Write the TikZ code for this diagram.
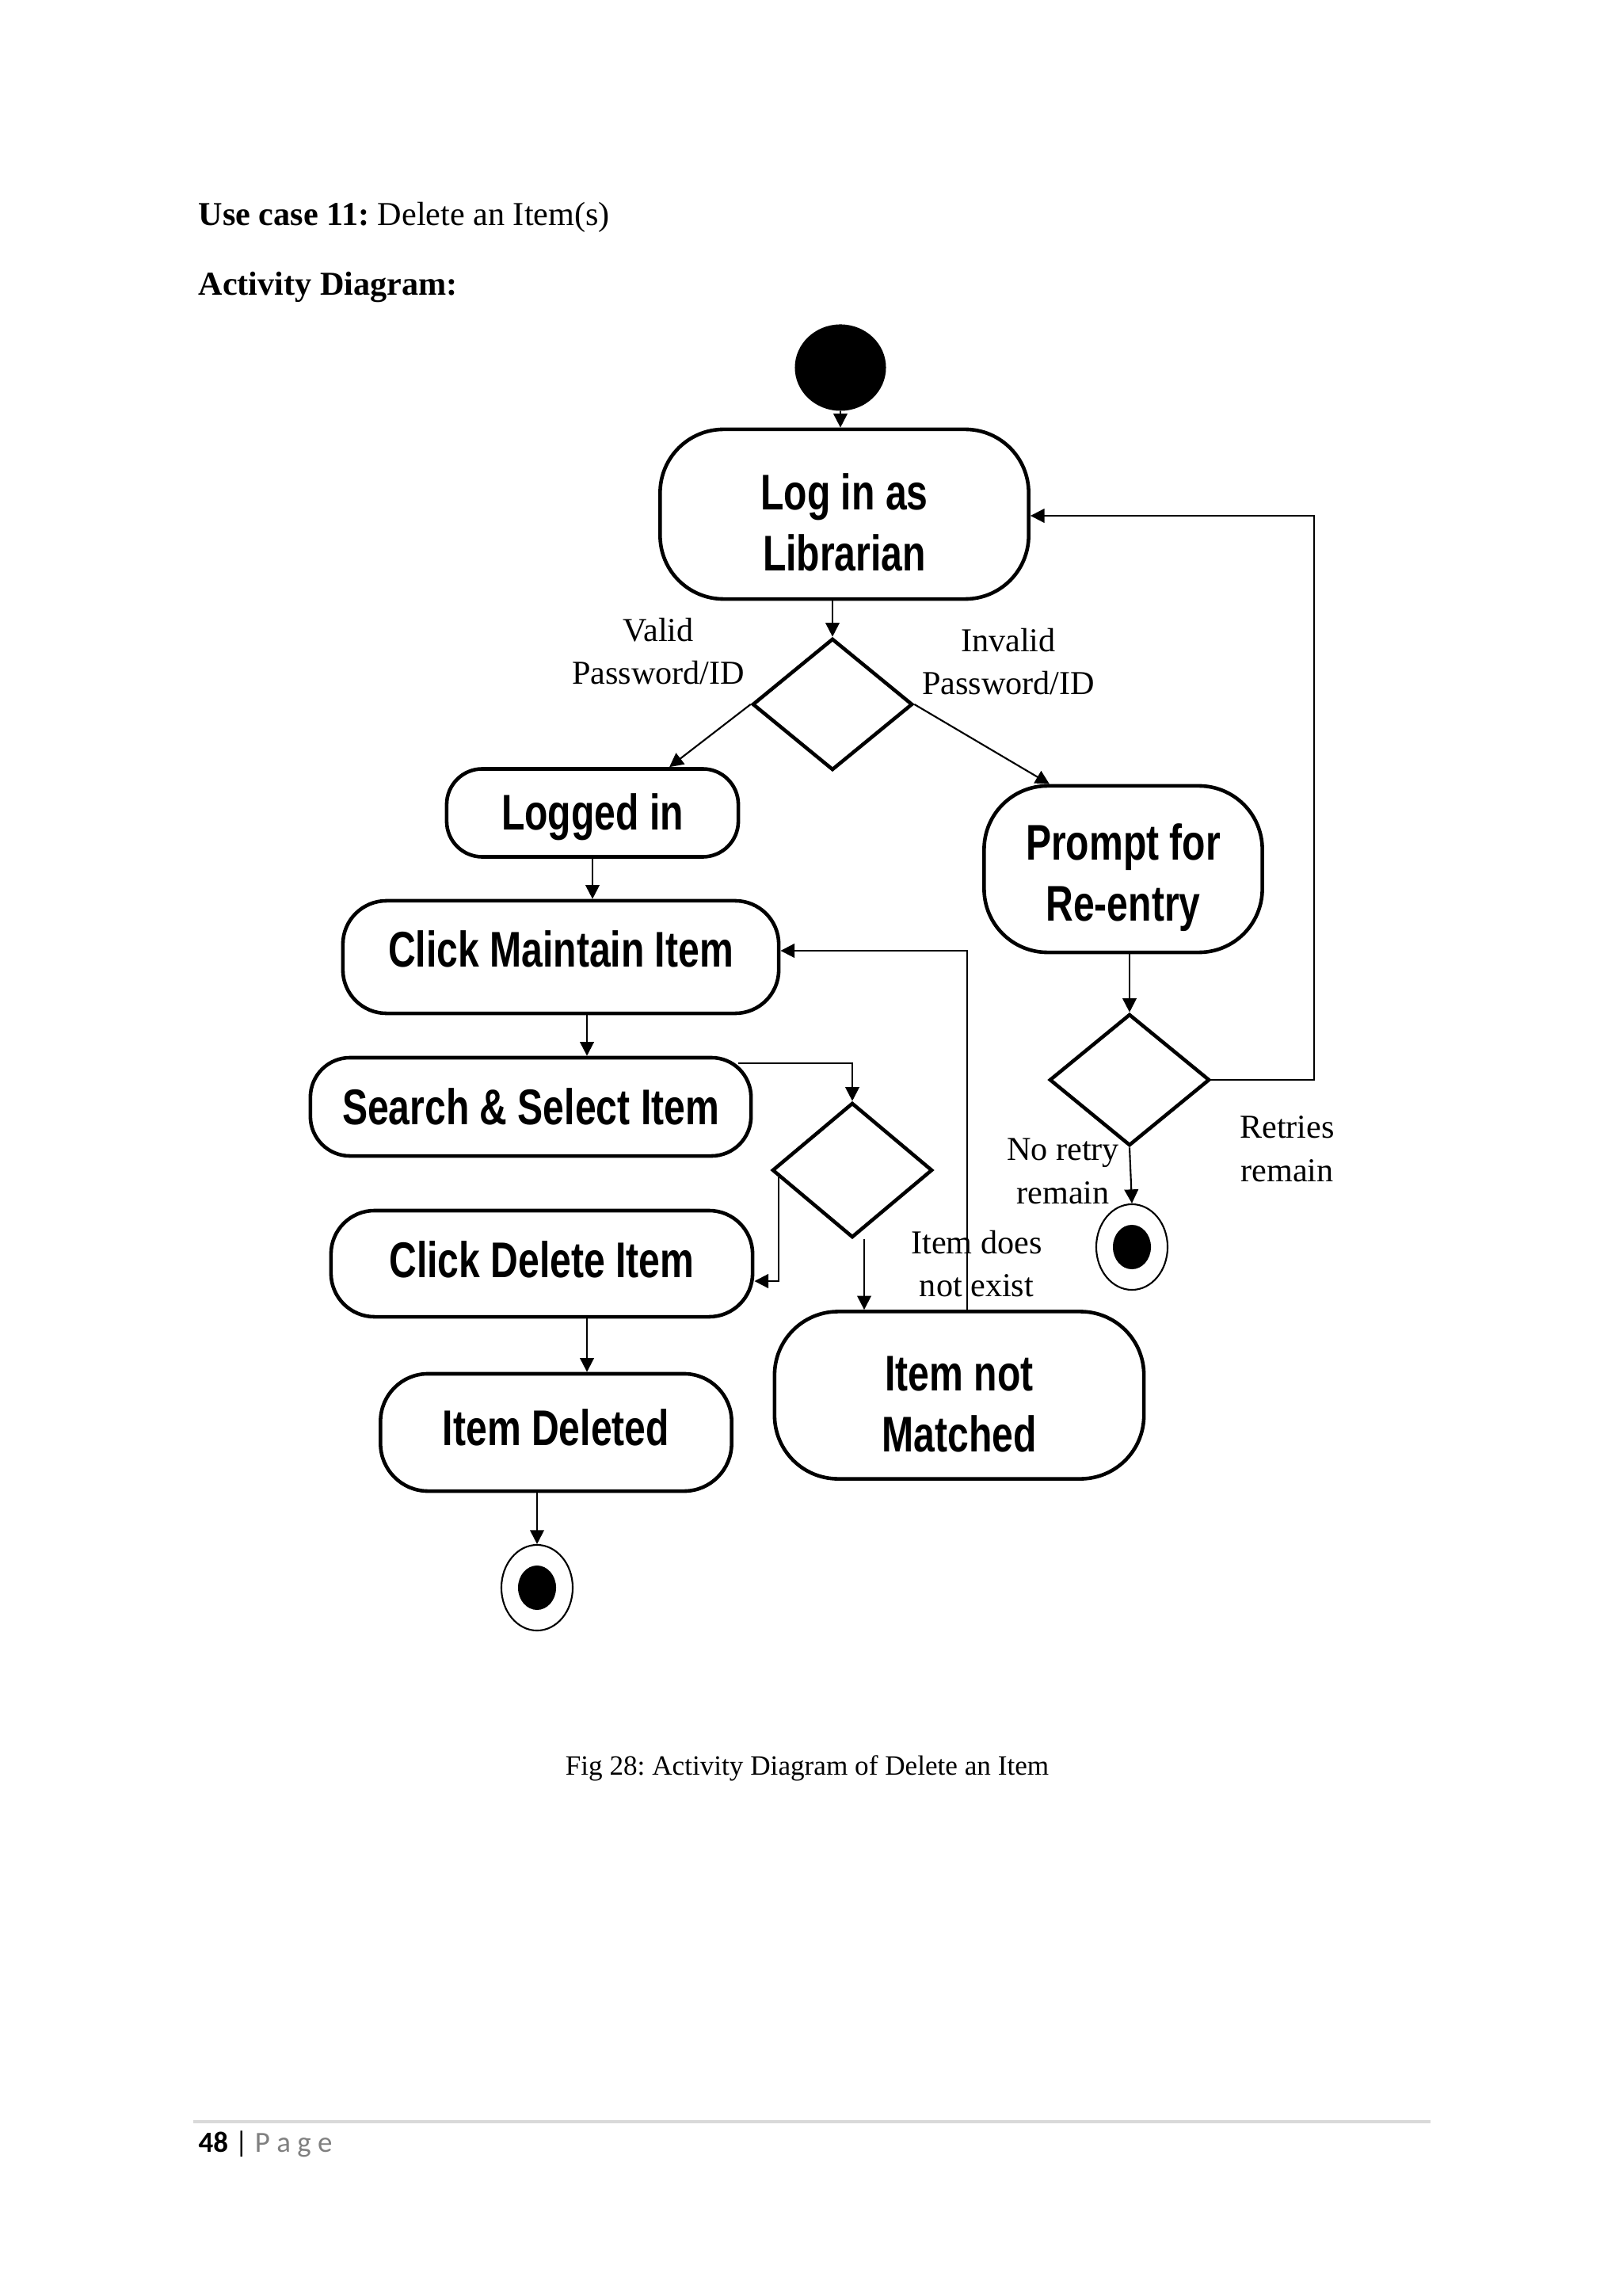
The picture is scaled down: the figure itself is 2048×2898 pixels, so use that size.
\documentclass[tikz,border=0pt]{standalone}
\usepackage{fontspec}
\setmainfont{Liberation Serif}
\newfontfamily\cajafont[FakeStretch=0.76]{Liberation Sans}
\newfontfamily\piefont{Carlito}
\usetikzlibrary{arrows.meta,shapes.geometric}
\frenchspacing
\newcommand{\alto}{\rule{0pt}{19pt}}

\tikzset{
  actividad/.style={draw, line width=1.3pt, rounded corners=#1, align=center, inner sep=0pt,
    font=\cajafont\bfseries\fontsize{18}{22}\selectfont},
  actividad/.default=0.75cm,
  bajar/.style={execute at begin node={\rule{0pt}{#1}}},
  decision/.style={draw, diamond, line width=1.3pt, inner sep=0pt},
  flecha/.style={-{Triangle[length=5pt,width=5pt]}, line width=0.6pt},
  etiqueta/.style={align=center, font=\fontsize{12}{15.6}\selectfont},
  fin/.style={draw, ellipse, line width=0.6pt, minimum width=0.9cm, minimum height=1.08cm, inner sep=0pt},
  punto/.style={fill, ellipse, minimum width=0.48cm, minimum height=0.56cm, inner sep=0pt}
}

\begin{document}
\begin{tikzpicture}[x=0.01cm, y=-0.01cm]
        \fill[white] (0,0) rectangle (2048,2898);
        \useasboundingbox (0,0) rectangle (2048,2898);

        % Encabezado
        \node[anchor=base west, inner sep=0pt, font=\fontsize{12}{14}\selectfont] (titulo) at (250,285) {\textbf{Use case 11:} Delete an Item(s)};
        \node[anchor=base west, inner sep=0pt, font=\bfseries\fontsize{12}{14}\selectfont] (subtitulo) at (250,373) {Activity Diagram:};

        % Inicio y acceso
        \node[fill, ellipse, minimum width=1.15cm, minimum height=1.09cm, inner sep=0pt] (inicio) at (1061,464) {};
        \node[actividad=0.8cm, minimum width=4.65cm, minimum height=2.14cm] (login) at (1066,649) {\alto Log in as\\Librarian};
        \node[decision, minimum width=2.02cm, minimum height=1.66cm] (dec1) at (1051,889) {};

        % Rama valida
        \node[actividad=0.45cm, bajar=16pt, minimum width=3.68cm, minimum height=1.11cm] (logged) at (748,1026) {Logged in};
        \node[actividad=0.55cm, text depth=0.2cm, minimum width=5.50cm, minimum height=1.42cm] (maintain) at (708,1208) {Click Maintain Item};
        \node[actividad=0.5cm, minimum width=5.56cm, minimum height=1.24cm] (search) at (670,1397) {Search \& Select Item};
        \node[decision, minimum width=2.02cm, minimum height=1.70cm] (dec2) at (1076,1477) {};
        \node[actividad=0.55cm, text depth=0.1cm, minimum width=5.32cm, minimum height=1.34cm] (delete) at (684,1595) {Click Delete Item};
        \node[actividad=0.6cm, text depth=0.12cm, minimum width=4.43cm, minimum height=1.48cm] (itemdel) at (702,1808) {Item Deleted};
        \node[actividad=0.8cm, minimum width=4.66cm, minimum height=2.11cm] (notmatched) at (1211,1761) {\alto Item not\\Matched};
        \node[fin] (fin1) at (678,2004) {};
        \node[punto] at (fin1) {};

        % Rama invalida
        \node[actividad=0.8cm, minimum width=3.51cm, minimum height=2.10cm] (prompt) at (1418,1097) {\alto Prompt for\\Re-entry};
        \node[decision, minimum width=2.02cm, minimum height=1.66cm] (dec3) at (1426,1363) {};
        \node[fin] (fin2) at (1429,1574) {};
        \node[punto] at (fin2) {};
        \coordinate (giro) at (1659,651);

        % Etiquetas de las guardas
        \node[etiqueta] (lvalid) at (831,822) {Valid\\Password/ID};
        \node[etiqueta] (linvalid) at (1273,835) {Invalid\\Password/ID};
        \node[etiqueta] (lnoexiste) at (1233,1595) {Item does\\not exist};
        \node[etiqueta] (lnoretry) at (1342,1478) {No retry\\remain};
        \node[etiqueta] (lretries) at (1625,1450) {Retries\\remain};

        % Flechas
        \draw[flecha] (inicio.south) -- (inicio.south |- login.north);
        \draw[flecha] (dec1.north |- login.south) -- (dec1.north);
        \draw[flecha] (dec1.west) -- ([xshift=0.97cm]logged.north);
        \draw[flecha] (dec1.east) -- ([xshift=-0.93cm]prompt.north);
        \draw[flecha] (logged.south) -- (logged.south |- maintain.north);
        \draw[flecha] ([xshift=0.33cm]maintain.south) -- ([xshift=0.33cm]maintain.south |- search.north);
        \draw[flecha] ([xshift=-0.18cm, yshift=-0.09cm]search.north east) -| (dec2.north);
        \draw[flecha] ([xshift=0.1cm, yshift=-0.09cm]dec2.west) |- ([yshift=-0.22cm]delete.east);
        \draw[flecha] ([xshift=0.15cm]dec2.south) -- ([xshift=0.15cm]dec2.south |- notmatched.north);
        \draw[flecha] ([xshift=0.1cm]notmatched.north) |- ([yshift=0.08cm]maintain.east);
        \draw[flecha] ([xshift=0.57cm]delete.south) -- ([xshift=0.57cm]delete.south |- itemdel.north);
        \draw[flecha] (itemdel.south -| fin1.north) -- (fin1.north);
        \draw[flecha] (dec3.north |- prompt.south) -- (dec3.north);
        \draw[flecha] (dec3.south) -- (fin2.north);
        \draw[flecha] (dec3.east) -| (giro) -- (giro -| login.east);

        % Pie de figura y de pagina
        \node[anchor=base, font=\fontsize{10}{12}\selectfont] (pie) at (1019,2240) {Fig 28: Activity Diagram of Delete an Item};
        \draw[gray!30, line width=1pt] (244,2678) -- (1806,2678);
        \node[anchor=base west, font=\piefont\fontsize{10.5}{12}\selectfont, inner sep=0pt] (pagina) at (250,2716) {\textbf{48} | \textcolor{gray}{P a g e}};
    \end{tikzpicture}
\end{document}
